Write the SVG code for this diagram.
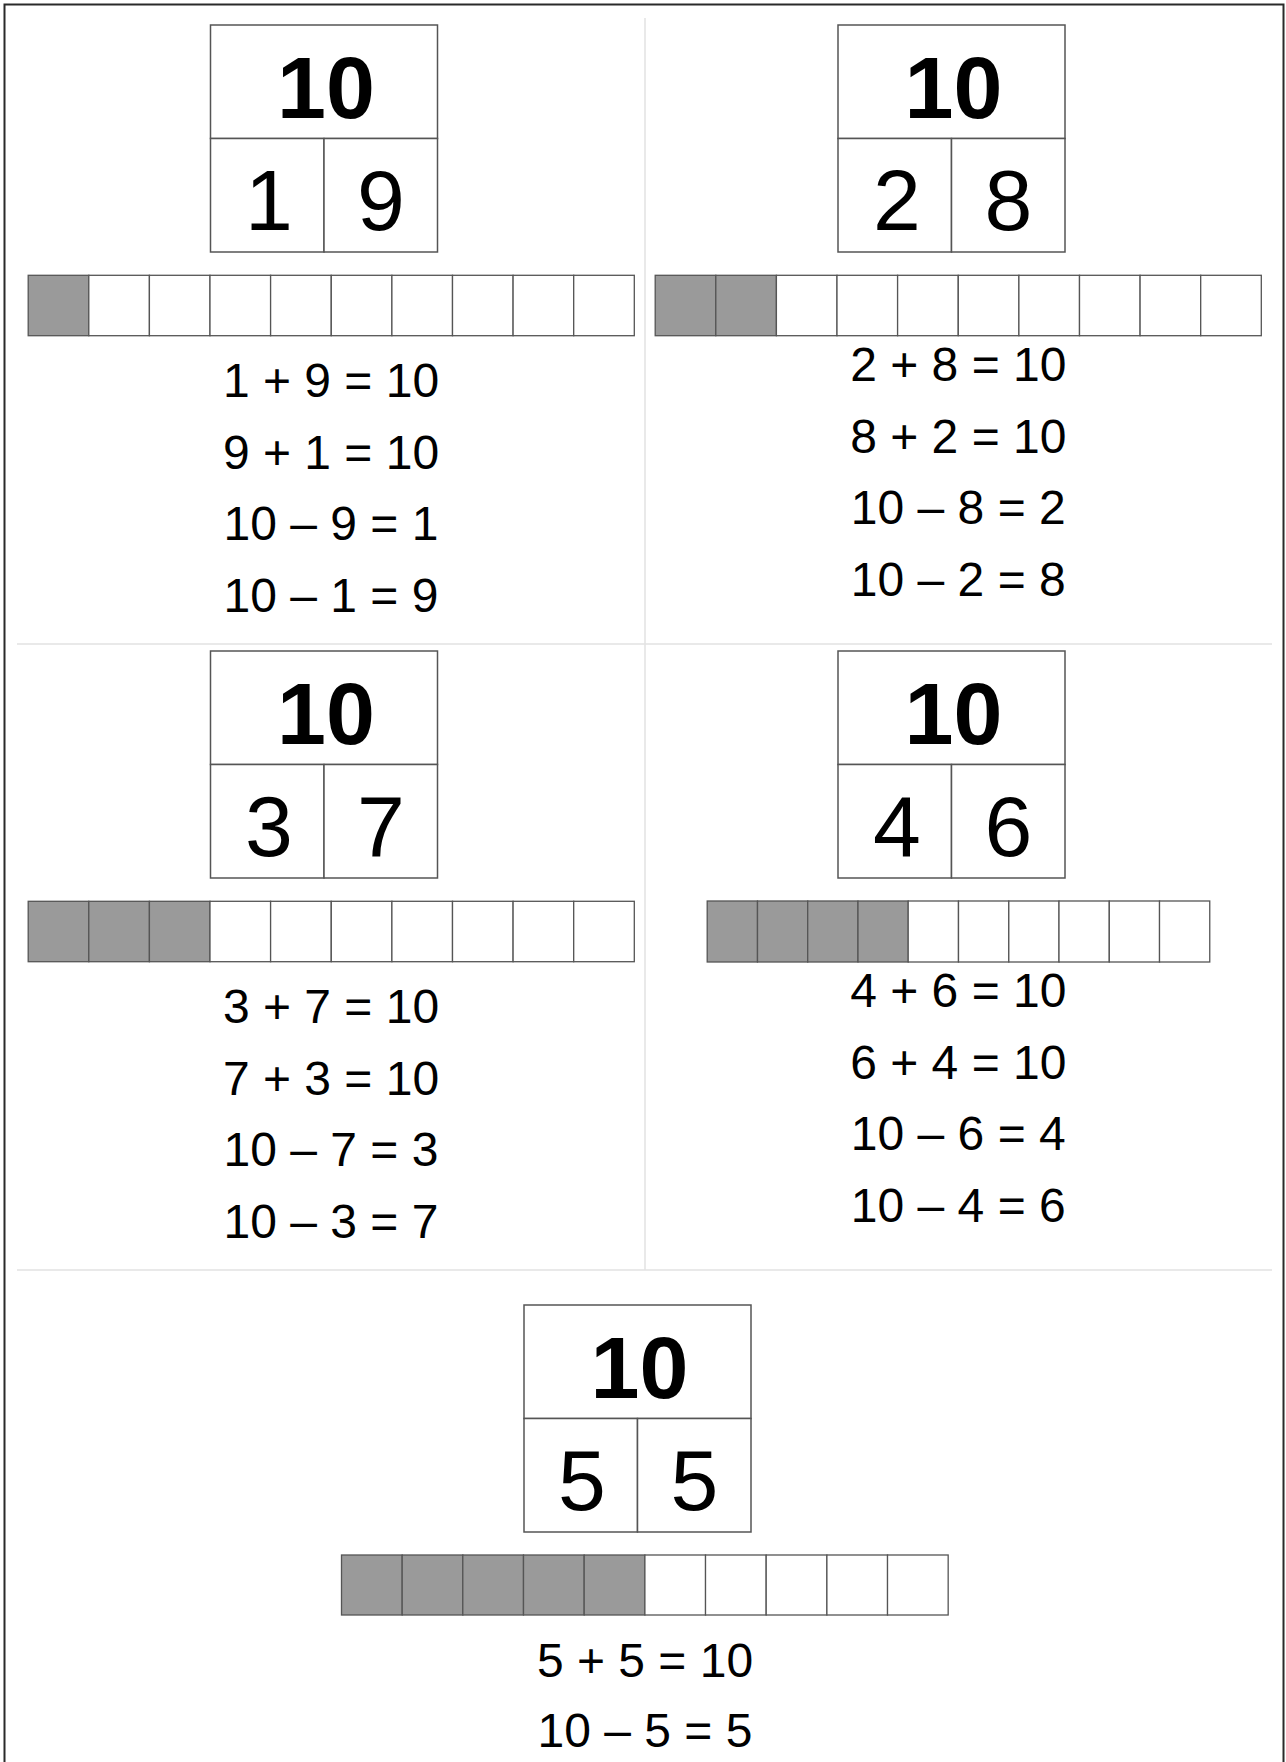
<svg xmlns="http://www.w3.org/2000/svg" width="1286" height="1762" viewBox="0 0 1286 1762">
<style>
.bg{fill:#fff}
.frame{fill:none;stroke:#2a2a2a;stroke-width:2}
.div{stroke:#e2e2e2;stroke-width:1.5;fill:none}
.box{fill:#fff;stroke:#555;stroke-width:1.5}
.c{fill:#fff;stroke:#555;stroke-width:1.3}
.on{fill:#9a9a9a}
text{font-family:"Liberation Sans",Arial,sans-serif;fill:#000;text-anchor:middle}
.big{font-size:88px;font-weight:bold}
.part{font-size:86px}
.eq{font-size:48px}
</style>
<rect class="bg" x="0" y="0" width="1286" height="1762"/>
<rect class="frame" x="4.5" y="4.5" width="1279" height="1800"/>
<g id="dividers">
<line class="div" x1="645" y1="18" x2="645" y2="1270"/>
<line class="div" x1="17" y1="644" x2="1272" y2="644"/>
<line class="div" x1="17" y1="1270" x2="1272" y2="1270"/>
</g>
<g id="connectors"/>

<g id="bond-1-9">
<rect class="box" x="210.5" y="25" width="227" height="113.5"/>
<rect class="box" x="210.5" y="138.5" width="113.5" height="113.5"/>
<rect class="box" x="324" y="138.5" width="113.5" height="113.5"/>
<text class="big" x="326" y="118">10</text>
<text class="part" x="269" y="229.5">1</text>
<text class="part" x="381" y="229.5">9</text>
</g>
<g id="frame-1-9">
<rect class="c on" x="28.2" y="275.3" width="60.6" height="60.4"/>
<rect class="c" x="88.8" y="275.3" width="60.6" height="60.4"/>
<rect class="c" x="149.4" y="275.3" width="60.6" height="60.4"/>
<rect class="c" x="210" y="275.3" width="60.6" height="60.4"/>
<rect class="c" x="270.6" y="275.3" width="60.6" height="60.4"/>
<rect class="c" x="331.3" y="275.3" width="60.6" height="60.4"/>
<rect class="c" x="391.9" y="275.3" width="60.6" height="60.4"/>
<rect class="c" x="452.5" y="275.3" width="60.6" height="60.4"/>
<rect class="c" x="513.1" y="275.3" width="60.6" height="60.4"/>
<rect class="c" x="573.7" y="275.3" width="60.6" height="60.4"/>
</g>
<g id="facts-1-9">
<text class="eq" x="331" y="397">1 + 9 = 10</text>
<text class="eq" x="331" y="468.5">9 + 1 = 10</text>
<text class="eq" x="331" y="540">10 – 9 = 1</text>
<text class="eq" x="331" y="611.5">10 – 1 = 9</text>
</g>

<g id="bond-2-8">
<rect class="box" x="838" y="25" width="227" height="113.5"/>
<rect class="box" x="838" y="138.5" width="113.5" height="113.5"/>
<rect class="box" x="951.5" y="138.5" width="113.5" height="113.5"/>
<text class="big" x="953.5" y="118">10</text>
<text class="part" x="897" y="229.5">2</text>
<text class="part" x="1008.5" y="229.5">8</text>
</g>
<g id="frame-2-8">
<rect class="c on" x="655.2" y="275.3" width="60.6" height="60.4"/>
<rect class="c on" x="715.8" y="275.3" width="60.6" height="60.4"/>
<rect class="c" x="776.4" y="275.3" width="60.6" height="60.4"/>
<rect class="c" x="837" y="275.3" width="60.6" height="60.4"/>
<rect class="c" x="897.6" y="275.3" width="60.6" height="60.4"/>
<rect class="c" x="958.3" y="275.3" width="60.6" height="60.4"/>
<rect class="c" x="1018.9" y="275.3" width="60.6" height="60.4"/>
<rect class="c" x="1079.5" y="275.3" width="60.6" height="60.4"/>
<rect class="c" x="1140.1" y="275.3" width="60.6" height="60.4"/>
<rect class="c" x="1200.7" y="275.3" width="60.6" height="60.4"/>
</g>
<g id="facts-2-8">
<text class="eq" x="958.3" y="381">2 + 8 = 10</text>
<text class="eq" x="958.3" y="452.5">8 + 2 = 10</text>
<text class="eq" x="958.3" y="524">10 – 8 = 2</text>
<text class="eq" x="958.3" y="595.5">10 – 2 = 8</text>
</g>

<g id="bond-3-7">
<rect class="box" x="210.5" y="651" width="227" height="113.5"/>
<rect class="box" x="210.5" y="764.5" width="113.5" height="113.5"/>
<rect class="box" x="324" y="764.5" width="113.5" height="113.5"/>
<text class="big" x="326" y="744">10</text>
<text class="part" x="269" y="855.5">3</text>
<text class="part" x="381" y="855.5">7</text>
</g>
<g id="frame-3-7">
<rect class="c on" x="28.2" y="901.3" width="60.6" height="60.4"/>
<rect class="c on" x="88.8" y="901.3" width="60.6" height="60.4"/>
<rect class="c on" x="149.4" y="901.3" width="60.6" height="60.4"/>
<rect class="c" x="210" y="901.3" width="60.6" height="60.4"/>
<rect class="c" x="270.6" y="901.3" width="60.6" height="60.4"/>
<rect class="c" x="331.3" y="901.3" width="60.6" height="60.4"/>
<rect class="c" x="391.9" y="901.3" width="60.6" height="60.4"/>
<rect class="c" x="452.5" y="901.3" width="60.6" height="60.4"/>
<rect class="c" x="513.1" y="901.3" width="60.6" height="60.4"/>
<rect class="c" x="573.7" y="901.3" width="60.6" height="60.4"/>
</g>
<g id="facts-3-7">
<text class="eq" x="331" y="1023">3 + 7 = 10</text>
<text class="eq" x="331" y="1094.5">7 + 3 = 10</text>
<text class="eq" x="331" y="1166">10 – 7 = 3</text>
<text class="eq" x="331" y="1237.5">10 – 3 = 7</text>
</g>

<g id="bond-4-6">
<rect class="box" x="838" y="651" width="227" height="113.5"/>
<rect class="box" x="838" y="764.5" width="113.5" height="113.5"/>
<rect class="box" x="951.5" y="764.5" width="113.5" height="113.5"/>
<text class="big" x="953.5" y="744">10</text>
<text class="part" x="897" y="855.5">4</text>
<text class="part" x="1008.5" y="855.5">6</text>
</g>
<g id="frame-4-6">
<rect class="c on" x="707.2" y="901" width="50.26" height="61"/>
<rect class="c on" x="757.5" y="901" width="50.26" height="61"/>
<rect class="c on" x="807.7" y="901" width="50.26" height="61"/>
<rect class="c on" x="858" y="901" width="50.26" height="61"/>
<rect class="c" x="908.2" y="901" width="50.26" height="61"/>
<rect class="c" x="958.5" y="901" width="50.26" height="61"/>
<rect class="c" x="1008.8" y="901" width="50.26" height="61"/>
<rect class="c" x="1059" y="901" width="50.26" height="61"/>
<rect class="c" x="1109.3" y="901" width="50.26" height="61"/>
<rect class="c" x="1159.5" y="901" width="50.26" height="61"/>
</g>
<g id="facts-4-6">
<text class="eq" x="958.3" y="1007">4 + 6 = 10</text>
<text class="eq" x="958.3" y="1078.5">6 + 4 = 10</text>
<text class="eq" x="958.3" y="1150">10 – 6 = 4</text>
<text class="eq" x="958.3" y="1221.5">10 – 4 = 6</text>
</g>

<g id="bond-5-5">
<rect class="box" x="524" y="1305" width="227" height="113.5"/>
<rect class="box" x="524" y="1418.5" width="113.5" height="113.5"/>
<rect class="box" x="637.5" y="1418.5" width="113.5" height="113.5"/>
<text class="big" x="639.5" y="1398">10</text>
<text class="part" x="582" y="1510">5</text>
<text class="part" x="694.5" y="1510">5</text>
</g>
<g id="frame-5-5">
<rect class="c on" x="341.5" y="1555" width="60.67" height="60"/>
<rect class="c on" x="402.2" y="1555" width="60.67" height="60"/>
<rect class="c on" x="462.8" y="1555" width="60.67" height="60"/>
<rect class="c on" x="523.5" y="1555" width="60.67" height="60"/>
<rect class="c on" x="584.2" y="1555" width="60.67" height="60"/>
<rect class="c" x="644.9" y="1555" width="60.67" height="60"/>
<rect class="c" x="705.5" y="1555" width="60.67" height="60"/>
<rect class="c" x="766.2" y="1555" width="60.67" height="60"/>
<rect class="c" x="826.9" y="1555" width="60.67" height="60"/>
<rect class="c" x="887.5" y="1555" width="60.67" height="60"/>
</g>
<g id="facts-5-5">
<text class="eq" x="645" y="1677">5 + 5 = 10</text>
<text class="eq" x="645" y="1747">10 – 5 = 5</text>
</g>
</svg>
